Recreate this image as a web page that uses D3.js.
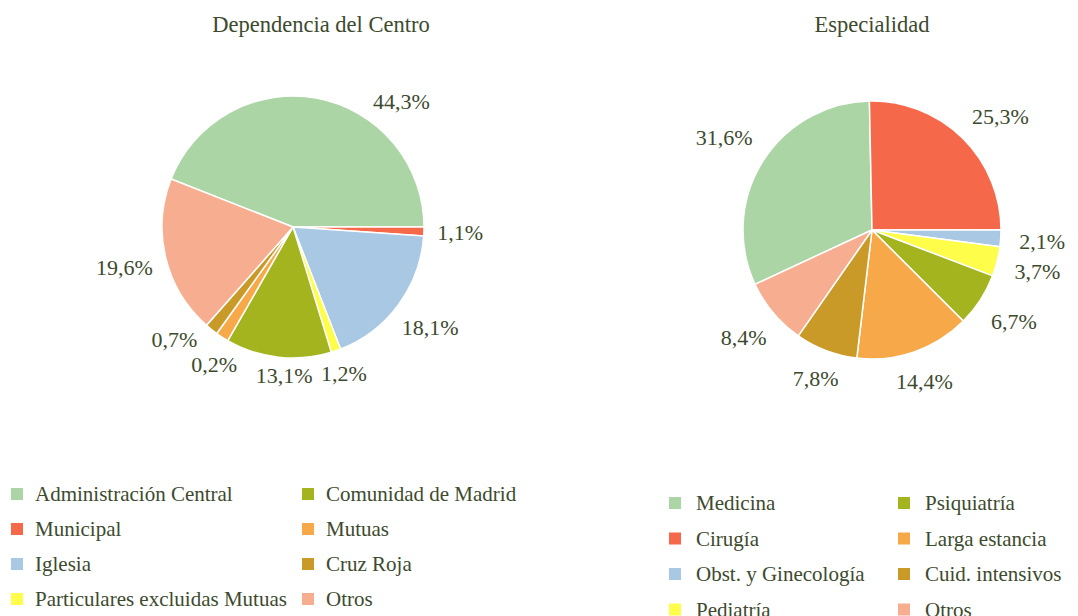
<!DOCTYPE html>
<html>
<head>
<meta charset="utf-8">
<script src="https://cdn.jsdelivr.net/npm/d3@7"></script>
<style>
  body { margin: 0; background: #fff; }
</style>
</head>
<body>
<div id="chart"></div>
<script>
// data
const depCategories = ["Administración Central", "Municipal", "Iglesia", "Particulares excluidas Mutuas",
                       "Comunidad de Madrid", "Mutuas", "Cruz Roja", "Otros"]
// slice sizes (the two tiny slices are drawn wider than their printed label)
const depValues = [44.3, 1.1, 18.1, 1.2, 13.1, 1.6, 1.6, 19.6]
const depLabels = ["44,3%", "1,1%", "18,1%", "1,2%", "13,1%", "0,2%", "0,7%", "19,6%"]

const espCategories = ["Medicina", "Cirugía", "Obst. y Ginecología", "Pediatría",
                       "Psiquiatría", "Larga estancia", "Cuid. intensivos", "Otros"]
const espValues = [31.6, 25.3, 2.1, 3.7, 6.7, 14.4, 7.8, 8.4]
const espLabels = ["31,6%", "25,3%", "2,1%", "3,7%", "6,7%", "14,4%", "7,8%", "8,4%"]

const palette = ["#acd5a6", "#f5694a", "#a8c8e4", "#fdfd4a", "#a3b41e", "#f7a848", "#c99a28", "#f7ae90"]

const W = 1078, H = 616
const FONT = '"Liberation Serif", "Times New Roman", serif'
const INK = "#3d4a2e"

const svg = d3.select("#chart")
  .append("svg")
    .attr("width", W)
    .attr("height", H)

function draw_pie(opts) {
  const {cats, values, labels, cx, cy, r, firstEnd, title, titleX, legend} = opts

  const color = d3.scaleOrdinal().domain(cats).range(palette)
  const total = d3.sum(values)
  const start = firstEnd - values[0] / total * 2 * Math.PI

  const pie = d3.pie()
    .sort(null)
    .value(d => d.value)
    .startAngle(start)
    .endAngle(start + 2 * Math.PI)

  const rows = cats.map((c, i) => ({cat: c, value: values[i], label: labels[i]}))
  const arcs = pie(rows)
  const arc = d3.arc().innerRadius(0).outerRadius(r)

  const g = svg.append("g").attr("transform", `translate(${cx},${cy})`)

  g.selectAll("path")
    .data(arcs)
    .join("path")
      .attr("d", arc)
      .attr("fill", d => color(d.data.cat))
      .attr("stroke", "#fff")
      .attr("stroke-width", 1.5)
      .attr("stroke-linejoin", "round")

  // percentage labels: the text box just clears the circle along the mid angle
  const shift = opts.labelShift || {}
  const lab = g.selectAll("text.pct")
    .data(arcs)
    .join("text")
      .attr("class", "pct")
      .style("font-family", FONT)
      .attr("font-size", 22)
      .attr("fill", INK)
      .attr("text-anchor", "middle")
      .attr("dominant-baseline", "central")
      .text(d => d.data.label)

  lab.each(function(d) {
    const w = this.getComputedTextLength()
    const a = (d.startAngle + d.endAngle) / 2 + (shift[d.data.cat] || 0) * Math.PI / 180
    const s = Math.sin(a), c = Math.cos(a)
    const dist = r + opts.labelGap + Math.abs(s) * w * 0.55 + Math.abs(c) * 5
    d3.select(this)
      .attr("x", s * dist)
      .attr("y", -c * dist)
  })

  svg.append("text")
    .attr("x", titleX)
    .attr("y", 32)
    .attr("text-anchor", "middle")
    .style("font-family", FONT)
    .attr("font-size", 22.5)
    .attr("fill", INK)
    .text(title)

  // legend, two columns of four
  const lg = svg.append("g")
  const item = lg.selectAll("g")
    .data(cats)
    .join("g")
      .attr("transform", (d, i) => {
        const col = Math.floor(i / 4), row = i % 4
        return `translate(${legend.x[col]},${legend.y + row * legend.step})`
      })
  item.append("rect")
    .attr("x", 0)
    .attr("y", -6)
    .attr("width", 12)
    .attr("height", 12)
    .attr("fill", d => color(d))
  item.append("text")
    .attr("x", legend.gap)
    .attr("y", 0)
    .attr("dominant-baseline", "central")
    .style("font-family", FONT)
    .attr("font-size", 21)
    .attr("fill", INK)
    .text(d => d)
}

draw_pie({
  cats: depCategories, values: depValues, labels: depLabels,
  cx: 293, cy: 227, r: 131,
  firstEnd: Math.PI / 2,
  labelGap: 11,
  title: "Dependencia del Centro", titleX: 321,
  labelShift: {"Administración Central": 30, "Mutuas": -3, "Cruz Roja": 8, "Comunidad de Madrid": -3},
  legend: {x: [11, 302], y: 494, step: 35, gap: 24}
})

draw_pie({
  cats: espCategories, values: espValues, labels: espLabels,
  cx: 872, cy: 230, r: 129,
  firstEnd: -0.02,
  labelGap: 16,
  title: "Especialidad", titleX: 872,
  labelShift: {"Cirugía": 4},
  legend: {x: [669, 898], y: 503, step: 35.5, gap: 27}
})
</script>
</body>
</html>
